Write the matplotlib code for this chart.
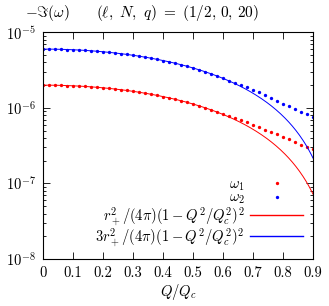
import numpy as np
import matplotlib
matplotlib.use("Agg")
import matplotlib.pyplot as plt

plt.rcParams['font.family'] = ['cmr10', 'DejaVu Serif']
plt.rcParams['mathtext.fontset'] = 'cm'
plt.rcParams['axes.formatter.use_mathtext'] = True
plt.rcParams['font.size'] = 10.5

# Q/Qc sample points
q = np.round(np.arange(0, 0.901, 0.02), 2)

# -Im(omega) (units of 1e-6)
w1 = [2.000, 1.998, 1.994, 1.986, 1.974, 1.960, 1.943, 1.922, 1.899, 1.873,
      1.843, 1.811, 1.776, 1.739, 1.699, 1.656, 1.611, 1.564, 1.515, 1.464,
      1.411, 1.357, 1.301, 1.243, 1.185, 1.128, 1.068, 1.007, 0.945, 0.884,
      0.822, 0.770, 0.728, 0.685, 0.643, 0.600, 0.556, 0.514, 0.480, 0.447,
      0.413, 0.383, 0.355, 0.325, 0.302, 0.283]
w2 = [6.000, 5.995, 5.981, 5.957, 5.923, 5.881, 5.828, 5.767, 5.697, 5.618,
      5.530, 5.433, 5.329, 5.216, 5.096, 4.969, 4.834, 4.693, 4.546, 4.392,
      4.234, 4.070, 3.902, 3.729, 3.554, 3.380, 3.200, 3.020, 2.835, 2.650,
      2.465, 2.290, 2.150, 2.000, 1.870, 1.720, 1.600, 1.480, 1.360, 1.230,
      1.130, 1.060, 0.955, 0.887, 0.828, 0.762]
w1 = np.array(w1) * 1e-6
w2 = np.array(w2) * 1e-6

r2_4pi = 2.0e-6
qq = np.linspace(0, 0.9, 300)
approx1 = r2_4pi * (1 - qq**2)**2
approx2 = 3 * r2_4pi * (1 - qq**2)**2

fig = plt.figure(figsize=(3.29, 3.06), dpi=100)
ax = fig.add_axes([0.1307, 0.1536, 0.8207, 0.7408])

ax.plot(q, w1, 'o', color='red', ms=2.4, mew=0, label=r'$\omega_1$')
ax.plot(q, w2, 'o', color='blue', ms=2.4, mew=0, label=r'$\omega_2$')
ax.plot(qq, approx1, '-', color='red', lw=0.7,
        label=r'$r_+^2/(4\pi)(1-Q^2/Q_c^2)^2$')
ax.plot(qq, approx2, '-', color='blue', lw=0.7,
        label=r'$3r_+^2/(4\pi)(1-Q^2/Q_c^2)^2$')

ax.set_yscale('log')
ax.set_xlim(0, 0.9)
ax.set_ylim(1e-8, 1e-5)
ax.set_xticks(np.arange(0, 0.91, 0.1))
ax.set_xticklabels(['0', '0.1', '0.2', '0.3', '0.4', '0.5', '0.6', '0.7', '0.8', '0.9'])
ax.tick_params(which='both', direction='in', top=True, right=True, width=0.6)
ax.tick_params(which='major', length=5, pad=5)
ax.tick_params(which='minor', length=2.5)
for s in ax.spines.values():
    s.set_linewidth(0.8)

ax.set_xlabel(r'$Q/Q_c$', labelpad=2)
fig.text(0.076, 0.958, r'$-\Im(\omega)$', ha='left', va='center', fontsize=11)
fig.text(0.54, 0.958, r'$(\ell,\ N,\ q)\ =\ (1/2,\, 0,\, 20)$',
         ha='center', va='center', fontsize=11)

leg = ax.legend(loc='lower right', frameon=False, markerfirst=False, numpoints=1,
                handlelength=3.6, handletextpad=0.4, labelspacing=-0.1,
                borderaxespad=0.3, fontsize=10.5)
for h, c in zip(leg.get_lines(), ['red', 'blue', 'red', 'blue']):
    h.set_color(c)
    h.set_linewidth(1.0)

fig.savefig('out.png', dpi=100)
